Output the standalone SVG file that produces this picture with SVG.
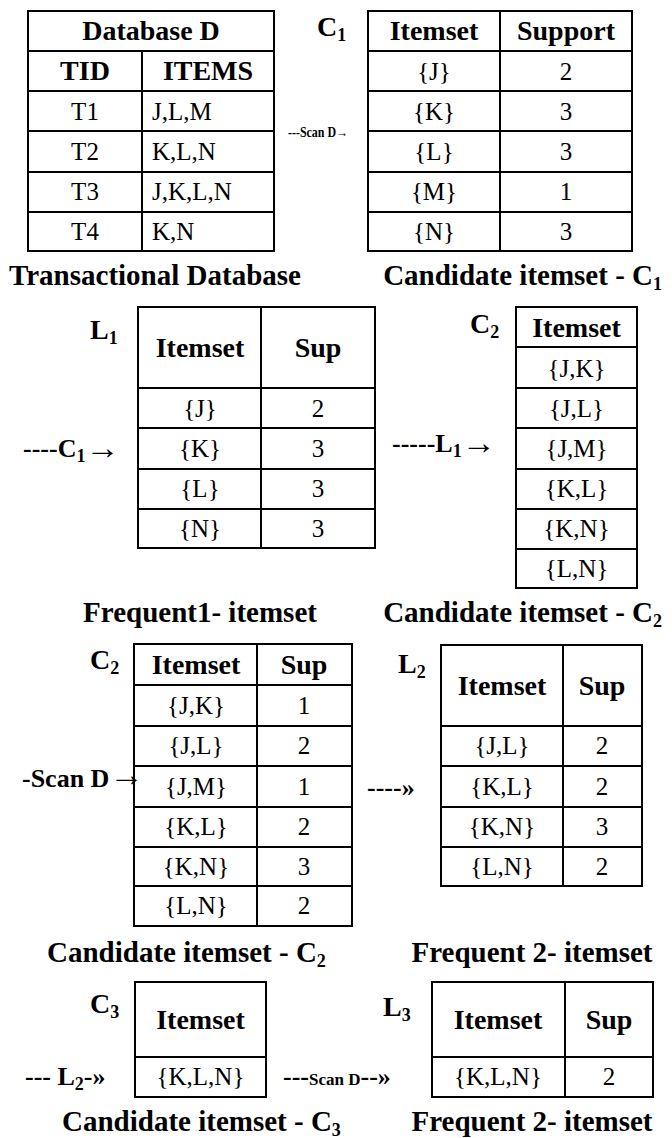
<svg xmlns="http://www.w3.org/2000/svg" width="672" height="1138" viewBox="0 0 672 1138" font-family="'Liberation Serif', 'Times New Roman', Times, 'DejaVu Serif', serif">
<style>
text{font-family:"Liberation Serif","Times New Roman",Times,"DejaVu Serif",serif;fill:#000}
.h{font-weight:bold;font-size:28px;text-anchor:middle}
.r{font-size:25px;text-anchor:middle}
.rl{font-size:25px}
.cap{font-weight:bold;font-size:29px}
.lab{font-weight:bold;font-size:28px}
.sub{font-size:18px}
.arr{font-weight:bold;font-size:26px}
.ar{font-size:34px;font-weight:normal}
.g rect,.g line{fill:none;stroke:#000;stroke-width:2}
</style>
<rect width="672" height="1138" fill="#fff"/>

<g id="db" class="g">
<rect x="28" y="11" width="246" height="240"/>
<line x1="28" y1="51" x2="274" y2="51"/><line x1="28" y1="91" x2="274" y2="91"/><line x1="28" y1="131" x2="274" y2="131"/><line x1="28" y1="172" x2="274" y2="172"/><line x1="28" y1="212" x2="274" y2="212"/>
<line x1="142" y1="51" x2="142" y2="251"/>
<text class="h" x="151" y="40">Database D</text>
<text class="h" x="85" y="80">TID</text><text class="h" x="208" y="80">ITEMS</text>
<text class="r" x="85" y="120">T1</text><text class="rl" x="152" y="120">J,L,M</text>
<text class="r" x="85" y="160">T2</text><text class="rl" x="152" y="160">K,L,N</text>
<text class="r" x="85" y="200">T3</text><text class="rl" x="152" y="200">J,K,L,N</text>
<text class="r" x="85" y="240">T4</text><text class="rl" x="152" y="240">K,N</text>
<text class="cap" x="155" y="285" text-anchor="middle">Transactional Database</text>
</g>

<g id="c1" class="g">
<text class="lab" x="317" y="36">C<tspan class="sub" dy="5">1</tspan></text>
<rect x="368" y="11" width="264" height="240"/>
<line x1="368" y1="51" x2="632" y2="51"/><line x1="368" y1="91" x2="632" y2="91"/><line x1="368" y1="131" x2="632" y2="131"/><line x1="368" y1="172" x2="632" y2="172"/><line x1="368" y1="212" x2="632" y2="212"/>
<line x1="500" y1="11" x2="500" y2="251"/>
<text class="h" x="434" y="40">Itemset</text><text class="h" x="566" y="40">Support</text>
<text class="r" x="434" y="80">{J}</text><text class="r" x="566" y="80">2</text>
<text class="r" x="434" y="120">{K}</text><text class="r" x="566" y="120">3</text>
<text class="r" x="434" y="160">{L}</text><text class="r" x="566" y="160">3</text>
<text class="r" x="434" y="200">{M}</text><text class="r" x="566" y="200">1</text>
<text class="r" x="434" y="240">{N}</text><text class="r" x="566" y="240">3</text>
<text class="cap" x="662" y="285" text-anchor="end">Candidate itemset - C<tspan class="sub" dy="5">1</tspan></text>
</g>

<g id="l1" class="g">
<text class="lab" x="90" y="339">L<tspan class="sub" dy="5">1</tspan></text>
<rect x="138" y="307" width="237" height="241"/>
<line x1="138" y1="388" x2="375" y2="388"/><line x1="138" y1="428" x2="375" y2="428"/><line x1="138" y1="469" x2="375" y2="469"/><line x1="138" y1="509" x2="375" y2="509"/>
<line x1="261" y1="307" x2="261" y2="548"/>
<text class="h" x="200" y="357">Itemset</text><text class="h" x="318" y="357">Sup</text>
<text class="r" x="200" y="417">{J}</text><text class="r" x="318" y="417">2</text>
<text class="r" x="200" y="457">{K}</text><text class="r" x="318" y="457">3</text>
<text class="r" x="200" y="497">{L}</text><text class="r" x="318" y="497">3</text>
<text class="r" x="200" y="537">{N}</text><text class="r" x="318" y="537">3</text>
<text class="cap" x="200" y="622" text-anchor="middle">Frequent1- itemset</text>
</g>

<g id="c2a" class="g">
<text class="lab" x="470" y="333">C<tspan class="sub" dy="5">2</tspan></text>
<rect x="516" y="307" width="121" height="281"/>
<line x1="516" y1="347" x2="637" y2="347"/><line x1="516" y1="388" x2="637" y2="388"/><line x1="516" y1="428" x2="637" y2="428"/><line x1="516" y1="469" x2="637" y2="469"/><line x1="516" y1="509" x2="637" y2="509"/><line x1="516" y1="549" x2="637" y2="549"/>
<text class="h" x="576.5" y="337">Itemset</text>
<text class="r" x="576.5" y="377">{J,K}</text>
<text class="r" x="576.5" y="417">{J,L}</text>
<text class="r" x="576.5" y="457">{J,M}</text>
<text class="r" x="576.5" y="497">{K,L}</text>
<text class="r" x="576.5" y="537">{K,N}</text>
<text class="r" x="576.5" y="577">{L,N}</text>
<text class="cap" x="662" y="622" text-anchor="end">Candidate itemset - C<tspan class="sub" dy="5">2</tspan></text>
</g>

<g id="c2b" class="g">
<text class="lab" x="90" y="669">C<tspan class="sub" dy="5">2</tspan></text>
<rect x="134" y="644" width="218" height="282"/>
<line x1="134" y1="685" x2="352" y2="685"/><line x1="134" y1="726" x2="352" y2="726"/><line x1="134" y1="766" x2="352" y2="766"/><line x1="134" y1="807" x2="352" y2="807"/><line x1="134" y1="847" x2="352" y2="847"/><line x1="134" y1="886" x2="352" y2="886"/>
<line x1="257" y1="644" x2="257" y2="926"/>
<text class="h" x="196" y="674">Itemset</text><text class="h" x="304" y="674">Sup</text>
<text class="r" x="196" y="714">{J,K}</text><text class="r" x="304" y="714">1</text>
<text class="r" x="196" y="754">{J,L}</text><text class="r" x="304" y="754">2</text>
<text class="r" x="196" y="795">{J,M}</text><text class="r" x="304" y="795">1</text>
<text class="r" x="196" y="835">{K,L}</text><text class="r" x="304" y="835">2</text>
<text class="r" x="196" y="875">{K,N}</text><text class="r" x="304" y="875">3</text>
<text class="r" x="196" y="914">{L,N}</text><text class="r" x="304" y="914">2</text>
<text class="cap" x="47" y="962">Candidate itemset - C<tspan class="sub" dy="5">2</tspan></text>
</g>

<g id="l2" class="g">
<text class="lab" x="398" y="673">L<tspan class="sub" dy="5">2</tspan></text>
<rect x="441" y="645" width="201" height="241"/>
<line x1="441" y1="726" x2="642" y2="726"/><line x1="441" y1="766" x2="642" y2="766"/><line x1="441" y1="807" x2="642" y2="807"/><line x1="441" y1="847" x2="642" y2="847"/>
<line x1="563" y1="645" x2="563" y2="886"/>
<text class="h" x="502" y="695">Itemset</text><text class="h" x="602" y="695">Sup</text>
<text class="r" x="502" y="754">{J,L}</text><text class="r" x="602" y="754">2</text>
<text class="r" x="502" y="795">{K,L}</text><text class="r" x="602" y="795">2</text>
<text class="r" x="502" y="835">{K,N}</text><text class="r" x="602" y="835">3</text>
<text class="r" x="502" y="875">{L,N}</text><text class="r" x="602" y="875">2</text>
<text class="cap" x="532" y="962" text-anchor="middle">Frequent 2- itemset</text>
</g>

<g id="c3" class="g">
<text class="lab" x="90" y="1013">C<tspan class="sub" dy="5">3</tspan></text>
<rect x="135" y="982" width="131" height="115"/>
<line x1="135" y1="1057" x2="266" y2="1057"/>
<text class="h" x="200.5" y="1029">Itemset</text>
<text class="r" x="200.5" y="1085">{K,L,N}</text>
<text class="cap" x="62" y="1131">Candidate itemset - C<tspan class="sub" dy="5">3</tspan></text>
</g>

<g id="l3" class="g">
<text class="lab" x="383" y="1016">L<tspan class="sub" dy="5">3</tspan></text>
<rect x="432" y="982" width="221" height="115"/>
<line x1="432" y1="1057" x2="653" y2="1057"/>
<line x1="565" y1="982" x2="565" y2="1097"/>
<text class="h" x="498" y="1029">Itemset</text><text class="h" x="609" y="1029">Sup</text>
<text class="r" x="498" y="1085">{K,L,N}</text><text class="r" x="609" y="1085">2</text>
<text class="cap" x="532" y="1131" text-anchor="middle">Frequent 2- itemset</text>
</g>

<g id="connectors">
<text x="288" y="137" font-weight="bold" font-size="14" textLength="60" lengthAdjust="spacingAndGlyphs">---Scan D→</text>
<text class="arr" x="23" y="457">----C<tspan class="sub" dy="5">1</tspan><tspan class="ar" dy="-3">→</tspan></text>
<text class="arr" x="392" y="452">-----L<tspan class="sub" dy="5">1</tspan><tspan class="ar" dy="-3">→</tspan></text>
<text class="arr" x="22" y="787" font-size="20">-Scan D<tspan class="ar" font-size="30" dy="-1">→</tspan></text>
<text class="arr" x="367" y="796">----»</text>
<text class="arr" x="25" y="1085">--- L<tspan class="sub" dy="5">2</tspan><tspan dy="-5">-»</tspan></text>
<text class="arr" x="283" y="1085">---<tspan font-size="17">Scan D</tspan>--»</text>
</g>
</svg>
